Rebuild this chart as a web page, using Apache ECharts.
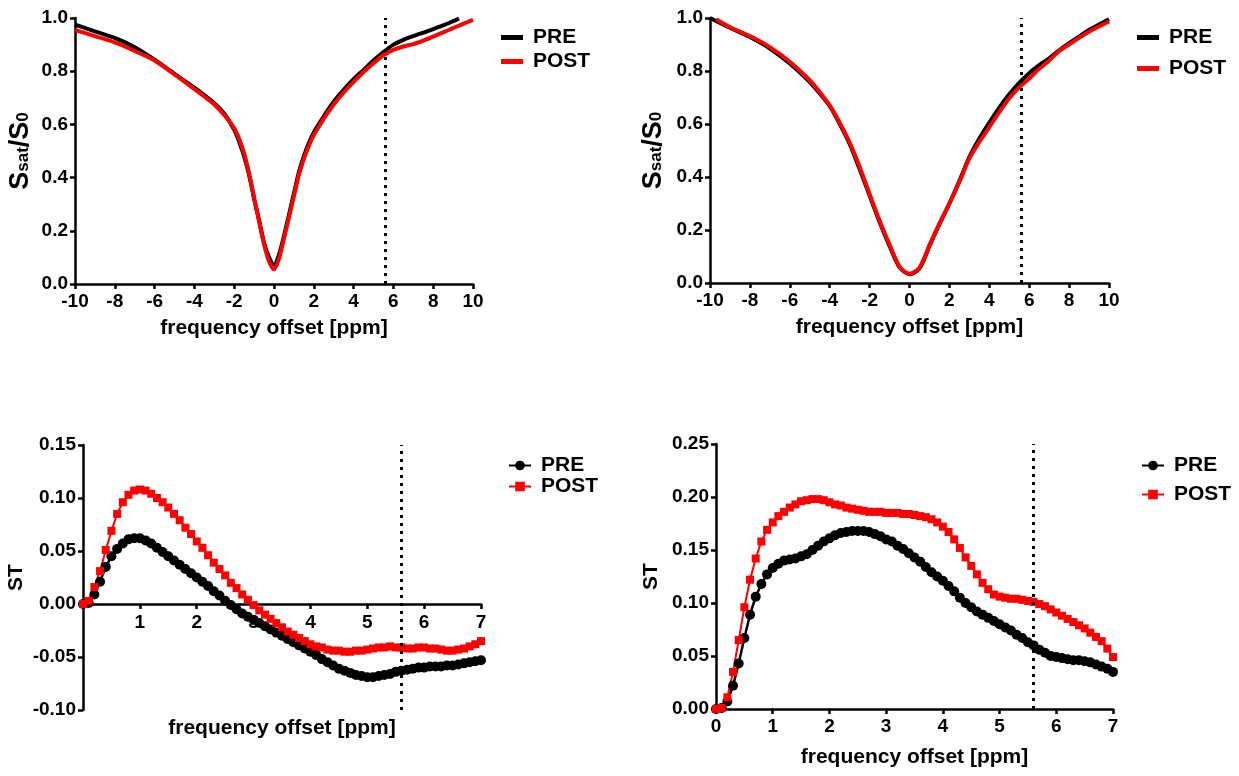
<!DOCTYPE html>
<html>
<head>
<meta charset="utf-8">
<script src="https://cdn.jsdelivr.net/npm/echarts@6/dist/echarts.min.js"></script>
<style>
  html, body { margin: 0; padding: 0; background: #fff; }
  #chart { width: 1239px; height: 776px; }
</style>
</head>
<body>
<div id="chart"></div>
<script>
// Z-spectra, top row (frequency offset in ppm, Ssat/S0)
const zA_preX = [-10, -9, -8, -7, -6, -5, -4, -3.5, -3, -2.5, -2, -1.75, -1.5, -1.25, -1, -0.75, -0.5, -0.25, 0, 0.25, 0.5, 0.75, 1, 1.25, 1.5, 1.75, 2, 2.5, 3, 3.5, 4, 4.5, 5, 5.5, 6, 6.5, 7, 7.5, 8, 8.5, 9, 9.3];
const zA_pre = [0.975, 0.95, 0.925, 0.89, 0.843, 0.79, 0.738, 0.71, 0.68, 0.64, 0.58, 0.535, 0.48, 0.41, 0.32, 0.24, 0.155, 0.1, 0.072, 0.11, 0.18, 0.26, 0.34, 0.42, 0.48, 0.53, 0.57, 0.63, 0.685, 0.73, 0.77, 0.805, 0.84, 0.872, 0.9, 0.918, 0.932, 0.945, 0.958, 0.972, 0.988, 0.998];
const zA_postX = [-10, -9, -8, -7, -6, -5, -4, -3.5, -3, -2.5, -2, -1.75, -1.5, -1.25, -1, -0.75, -0.5, -0.25, 0, 0.25, 0.5, 0.75, 1, 1.25, 1.5, 1.75, 2, 2.5, 3, 3.5, 4, 4.5, 5, 5.5, 6, 6.5, 7, 7.5, 8, 8.5, 9, 9.5, 10];
const zA_post = [0.955, 0.932, 0.908, 0.876, 0.84, 0.788, 0.733, 0.705, 0.675, 0.635, 0.585, 0.545, 0.49, 0.415, 0.325, 0.235, 0.15, 0.085, 0.055, 0.095, 0.17, 0.25, 0.33, 0.41, 0.47, 0.52, 0.56, 0.622, 0.675, 0.72, 0.76, 0.797, 0.83, 0.86, 0.88, 0.893, 0.902, 0.915, 0.93, 0.946, 0.962, 0.978, 0.993];

const zB_preX = [-10, -9, -8, -7, -6, -5, -4.5, -4, -3.5, -3, -2.5, -2, -1.5, -1, -0.5, 0, 0.5, 1, 1.5, 2, 2.5, 3, 3.5, 4, 4.5, 5, 5.5, 6, 6.5, 7, 7.5, 8, 8.5, 9, 9.5, 10];
const zB_pre = [1.0, 0.963, 0.928, 0.885, 0.828, 0.758, 0.715, 0.668, 0.6, 0.525, 0.43, 0.33, 0.23, 0.14, 0.06, 0.033, 0.055, 0.14, 0.222, 0.3, 0.385, 0.475, 0.545, 0.605, 0.662, 0.712, 0.755, 0.792, 0.822, 0.848, 0.878, 0.905, 0.93, 0.955, 0.975, 0.995];
const zB_postX = [-9.7, -9, -8, -7, -6, -5, -4.5, -4, -3.5, -3, -2.5, -2, -1.5, -1, -0.5, 0, 0.5, 1, 1.5, 2, 2.5, 3, 3.5, 4, 4.5, 5, 5.5, 6, 6.5, 7, 7.5, 8, 8.5, 9, 9.5, 10];
const zB_post = [0.995, 0.965, 0.932, 0.89, 0.835, 0.765, 0.72, 0.67, 0.605, 0.53, 0.438, 0.335, 0.235, 0.145, 0.062, 0.035, 0.058, 0.142, 0.224, 0.3, 0.382, 0.47, 0.532, 0.588, 0.645, 0.697, 0.738, 0.772, 0.808, 0.84, 0.875, 0.9, 0.925, 0.948, 0.968, 0.987];

// ST curves, bottom row, sampled every 0.1 ppm from 0 to 7
const stX = [0, 0.1, 0.2, 0.3, 0.4, 0.5, 0.6, 0.7, 0.8, 0.9, 1, 1.1, 1.2, 1.3, 1.4, 1.5, 1.6, 1.7, 1.8, 1.9, 2, 2.1, 2.2, 2.3, 2.4, 2.5, 2.6, 2.7, 2.8, 2.9, 3, 3.1, 3.2, 3.3, 3.4, 3.5, 3.6, 3.7, 3.8, 3.9, 4, 4.1, 4.2, 4.3, 4.4, 4.5, 4.6, 4.7, 4.8, 4.9, 5, 5.1, 5.2, 5.3, 5.4, 5.5, 5.6, 5.7, 5.8, 5.9, 6, 6.1, 6.2, 6.3, 6.4, 6.5, 6.6, 6.7, 6.8, 6.9, 7];
const stA_pre = [0, 0.001, 0.009, 0.021, 0.035, 0.045, 0.052, 0.057, 0.061, 0.062, 0.062, 0.06, 0.057, 0.053, 0.049, 0.045, 0.041, 0.037, 0.033, 0.029, 0.025, 0.021, 0.017, 0.012, 0.008, 0.003, -0.001, -0.005, -0.009, -0.012, -0.015, -0.018, -0.021, -0.024, -0.027, -0.03, -0.033, -0.036, -0.039, -0.042, -0.045, -0.048, -0.052, -0.055, -0.058, -0.061, -0.063, -0.065, -0.067, -0.068, -0.069, -0.069, -0.068, -0.067, -0.066, -0.064, -0.063, -0.062, -0.061, -0.06, -0.06, -0.059, -0.059, -0.059, -0.058, -0.058, -0.057, -0.056, -0.055, -0.054, -0.053];
const stA_post = [0, 0.003, 0.016, 0.031, 0.051, 0.069, 0.085, 0.096, 0.103, 0.107, 0.108, 0.107, 0.104, 0.1, 0.096, 0.091, 0.085, 0.079, 0.072, 0.066, 0.059, 0.053, 0.046, 0.039, 0.033, 0.027, 0.02, 0.015, 0.009, 0.004, -0.001, -0.006, -0.01, -0.014, -0.018, -0.022, -0.026, -0.029, -0.032, -0.035, -0.038, -0.04, -0.041, -0.043, -0.044, -0.044, -0.045, -0.045, -0.044, -0.044, -0.043, -0.042, -0.041, -0.041, -0.04, -0.041, -0.041, -0.042, -0.042, -0.041, -0.041, -0.042, -0.042, -0.043, -0.044, -0.044, -0.043, -0.042, -0.04, -0.038, -0.035];
const stB_pre = [0, 0.001, 0.007, 0.022, 0.043, 0.067, 0.089, 0.106, 0.118, 0.127, 0.133, 0.137, 0.14, 0.141, 0.142, 0.144, 0.146, 0.15, 0.154, 0.158, 0.161, 0.164, 0.166, 0.167, 0.168, 0.168, 0.168, 0.167, 0.165, 0.163, 0.16, 0.158, 0.154, 0.151, 0.147, 0.143, 0.139, 0.134, 0.129, 0.125, 0.121, 0.116, 0.111, 0.105, 0.1, 0.096, 0.092, 0.089, 0.086, 0.083, 0.08, 0.077, 0.074, 0.07, 0.067, 0.063, 0.06, 0.056, 0.053, 0.05, 0.049, 0.048, 0.047, 0.046, 0.046, 0.045, 0.044, 0.042, 0.04, 0.038, 0.035];
const stB_post = [0, 0.001, 0.011, 0.035, 0.065, 0.096, 0.122, 0.142, 0.158, 0.169, 0.176, 0.182, 0.186, 0.19, 0.193, 0.196, 0.197, 0.198, 0.198, 0.197, 0.195, 0.193, 0.192, 0.19, 0.189, 0.188, 0.187, 0.186, 0.186, 0.186, 0.185, 0.185, 0.185, 0.184, 0.184, 0.183, 0.182, 0.181, 0.179, 0.176, 0.172, 0.167, 0.16, 0.152, 0.143, 0.135, 0.127, 0.119, 0.113, 0.108, 0.106, 0.105, 0.104, 0.104, 0.103, 0.102, 0.101, 0.099, 0.097, 0.094, 0.091, 0.088, 0.085, 0.082, 0.079, 0.076, 0.072, 0.068, 0.064, 0.057, 0.049];

const cutoff = 5.6; // dotted marker

const FONT = 'Liberation Sans, Arial, sans-serif';
const pair = (xs, ys) => xs.map((x, i) => [x, ys[i]]);

const chart = echarts.init(document.getElementById('chart'));

// grid boxes in px, no automatic fitting of labels
const grids = [
    { left: 75, top: 18, width: 398, height: 266 },
    { left: 710, top: 18, width: 399, height: 265 },
    { left: 83, top: 445, width: 398, height: 265 },
    { left: 716, top: 444, width: 397, height: 265 },
].map(g => Object.assign(g, { outerBoundsMode: 'none', containLabel: false }));

const axisCommon = {
    axisLine: { onZero: true, lineStyle: { color: '#000', width: 2.5 } },
    axisTick: { lineStyle: { color: '#000', width: 2.5 }, length: 5 },
    splitLine: { show: false },
    axisLabel: { color: '#000', fontWeight: 'bold', fontSize: 19, fontFamily: FONT },
    nameTextStyle: { color: '#000', fontWeight: 'bold', fontSize: 21, fontFamily: FONT },
};

// labelMargin: distance of tick labels from the grid bottom
function xAxis(grid, min, max, interval, nameGap, hideZero, labelMargin) {
    return Object.assign({}, axisCommon, {
        type: 'value', gridIndex: grid, min, max, interval,
        name: 'frequency offset [ppm]', nameLocation: 'middle', nameGap,
        axisLabel: Object.assign({}, axisCommon.axisLabel, {
            margin: labelMargin,
            formatter: v => (hideZero && v === 0 ? '' : String(v)),
        }),
    });
}

const ssatName = {
    name: '{s|S}{sub|sat}{s|/S}{sub|0}',
    nameTextStyle: {
        rich: {
            s: { fontSize: 27, fontWeight: 'bold', fontFamily: FONT, color: '#000', padding: [0, 0, 6, 0] },
            sub: { fontSize: 17, fontWeight: 'bold', fontFamily: FONT, color: '#000' },
        },
    },
};

function yAxis(grid, min, max, interval, digits, nameOpt, nameGap) {
    const ax = Object.assign({}, axisCommon, {
        type: 'value', gridIndex: grid, min, max, interval,
        nameLocation: 'middle', nameGap,
        // y axis stays on the left edge, never on x = 0
        axisLine: { onZero: false, lineStyle: { color: '#000', width: 2.5 } },
        axisLabel: Object.assign({}, axisCommon.axisLabel, {
            margin: 7,
            formatter: v => v.toFixed(digits),
        }),
    });
    return Object.assign(ax, nameOpt);
}

const stName = { name: 'ST', nameTextStyle: { color: '#000', fontWeight: 'bold', fontSize: 21, fontFamily: FONT } };

const dotted = {
    symbol: 'none', silent: true, label: { show: false },
    lineStyle: { color: '#000', width: 3, type: [3, 5] },
    data: [{ xAxis: cutoff }],
};

function zLine(name, grid, data, color, withMark) {
    const s = {
        name, type: 'line', xAxisIndex: grid, yAxisIndex: grid,
        data, showSymbol: false, symbol: 'none', smooth: 0.3,
        lineStyle: { color, width: 4 }, itemStyle: { color },
        animation: false,
    };
    if (withMark) s.markLine = dotted;
    return s;
}

function stLine(name, grid, data, color, symbol, size, width, withMark) {
    const s = {
        name, type: 'line', xAxisIndex: grid, yAxisIndex: grid,
        data, symbol, symbolSize: size, showAllSymbol: true,
        lineStyle: { color, width }, itemStyle: { color },
        animation: false,
    };
    if (withMark) s.markLine = dotted;
    return s;
}

function legend(names, left, top, gap, lineOnly) {
    const l = {
        orient: 'vertical', left, top, itemGap: gap,
        data: names, selectedMode: false,
        itemWidth: 22, itemHeight: lineOnly ? 5 : 12,
        formatter: n => n.split('#')[0],
        textStyle: { color: '#000', fontWeight: 'bold', fontSize: 21, fontFamily: FONT, padding: [0, 0, 0, 5] },
    };
    if (lineOnly) l.icon = 'rect';
    return l;
}

chart.setOption({
    backgroundColor: '#fff',
    animation: false,
    grid: grids,
    xAxis: [
        xAxis(0, -10, 10, 2, 34, false, 8),
        xAxis(1, -10, 10, 2, 34, false, 8),
        // labels sit under the zero line, about 106px above the grid bottom
        xAxis(2, 0, 7, 1, 8, true, -97),
        xAxis(3, 0, 7, 1, 38, false, 8),
    ],
    yAxis: [
        yAxis(0, 0, 1, 0.2, 1, ssatName, 35),
        yAxis(1, 0, 1, 0.2, 1, ssatName, 37),
        yAxis(2, -0.1, 0.15, 0.05, 2, stName, 56),
        yAxis(3, 0, 0.25, 0.05, 2, stName, 54),
    ],
    legend: [
        legend(['PRE#a', 'POST#a'], 496, 22, 3, true),
        legend(['PRE#b', 'POST#b'], 1132, 22, 10, true),
        legend(['PRE#c', 'POST#c'], 503, 450, 0, false),
        legend(['PRE#d', 'POST#d'], 1136, 450, 8, false),
    ],
    series: [
        zLine('PRE#a', 0, pair(zA_preX, zA_pre), '#000', true),
        zLine('POST#a', 0, pair(zA_postX, zA_post), '#ff0000', false),
        zLine('PRE#b', 1, pair(zB_preX, zB_pre), '#000', true),
        zLine('POST#b', 1, pair(zB_postX, zB_post), '#ff0000', false),
        stLine('PRE#c', 2, pair(stX, stA_pre), '#000', 'circle', 10, 2.5, true),
        stLine('POST#c', 2, pair(stX, stA_post), '#ff0000', 'rect', 8, 2, false),
        stLine('PRE#d', 3, pair(stX, stB_pre), '#000', 'circle', 10, 2.5, true),
        stLine('POST#d', 3, pair(stX, stB_post), '#ff0000', 'rect', 8, 2, false),
    ],
});
</script>
</body>
</html>
